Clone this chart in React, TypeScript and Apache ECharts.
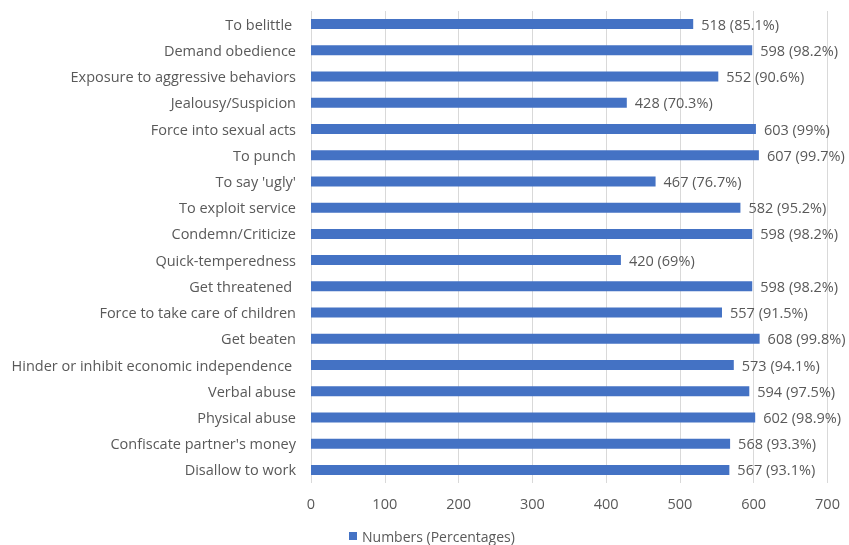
import React, { useEffect, useRef } from "react";
import * as echarts from "echarts";

const categories = [
  "To belittle ",
  "Demand obedience",
  "Exposure to aggressive behaviors",
  "Jealousy/Suspicion",
  "Force into sexual acts",
  "To punch",
  "To say 'ugly'",
  "To exploit service",
  "Condemn/Criticize",
  "Quick-temperedness",
  "Get threatened ",
  "Force to take care of children",
  "Get beaten",
  "Hinder or inhibit economic independence ",
  "Verbal abuse",
  "Physical abuse",
  "Confiscate partner's money",
  "Disallow to work",
];
const numbers = [518, 598, 552, 428, 603, 607, 467, 582, 598, 420, 598, 557, 608, 573, 594, 602, 568, 567];
const percentages = ["85.1", "98.2", "90.6", "70.3", "99", "99.7", "76.7", "95.2", "98.2", "69", "98.2", "91.5", "99.8", "94.1", "97.5", "98.9", "93.3", "93.1"];
const seriesName = "Numbers (Percentages)";

const FONT = "'Open Sans', sans-serif";
const TEXT = "#595959";
const FS = 14.5;

export default function App() {
  const ref = useRef<HTMLDivElement>(null);
  useEffect(() => {
    if (!ref.current) return;
    const chart = echarts.init(ref.current, undefined, { renderer: "svg" });
    chart.setOption({
      animation: false,
      textStyle: { fontFamily: FONT },
      grid: { left: 311, right: 21.5, top: 11, bottom: 62, containLabel: false },
      legend: {
        top: 524,
        left: 344,
        itemWidth: 8,
        itemHeight: 8,
        icon: "rect",
        itemGap: 4,
        textStyle: { color: TEXT, fontSize: 14, fontFamily: FONT },
        data: [seriesName],
      },
      xAxis: {
        type: "value",
        min: 0,
        max: 700,
        interval: 100,
        axisLine: { show: false },
        axisTick: { show: false },
        splitLine: { show: true, lineStyle: { color: "#d9d9d9", width: 1 } },
        axisLabel: { color: TEXT, fontSize: FS, margin: 13, fontFamily: FONT },
      },
      yAxis: {
        type: "category",
        data: categories,
        inverse: true,
        axisLine: { show: false },
        axisTick: { show: false },
        axisLabel: { color: TEXT, fontSize: FS, margin: 15, fontFamily: FONT },
      },
      series: [
        {
          name: seriesName,
          type: "bar",
          data: numbers,
          barWidth: 10,
          itemStyle: { color: "#4472C4" },
          label: {
            show: true,
            position: "right",
            distance: 8,
            color: TEXT,
            fontSize: FS,
            fontFamily: FONT,
            formatter: (p: any) => `${p.value} (${percentages[p.dataIndex]}%)`,
          },
        },
      ],
    });
    return () => chart.dispose();
  }, []);
  return (
    <div
      ref={ref}
      style={{ position: "fixed", left: 0, top: 0, width: 849, height: 545 }}
    />
  );
}
